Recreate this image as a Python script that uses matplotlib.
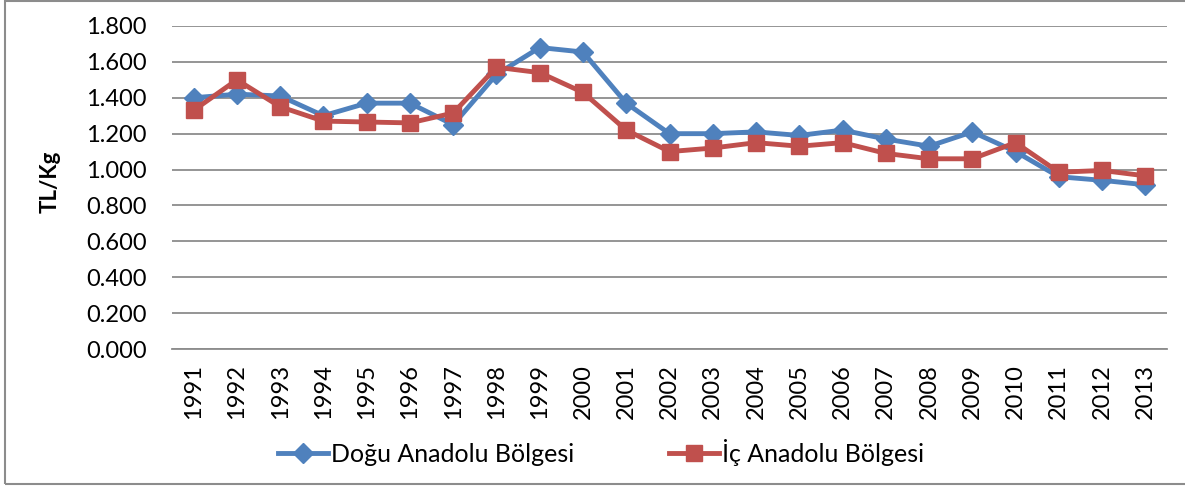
import matplotlib.pyplot as plt
from matplotlib.patches import Rectangle

# Yıllar ve bölge fiyatları (TL/Kg)
years = [str(y) for y in range(1991, 2014)]
dogu = [1.40, 1.42, 1.41, 1.30, 1.37, 1.37, 1.25, 1.53, 1.68, 1.655, 1.37, 1.20,
        1.20, 1.21, 1.19, 1.22, 1.17, 1.13, 1.21, 1.10, 0.96, 0.94, 0.915]
ic = [1.33, 1.50, 1.35, 1.27, 1.265, 1.26, 1.315, 1.57, 1.54, 1.43, 1.22, 1.10,
      1.12, 1.15, 1.13, 1.15, 1.09, 1.06, 1.06, 1.15, 0.985, 0.995, 0.965]
yticks = [0.0, 0.2, 0.4, 0.6, 0.8, 1.0, 1.2, 1.4, 1.6, 1.8]

plt.rcParams['font.family'] = ['Lato', 'DejaVu Sans']

W, H = 1185, 486
fig = plt.figure(figsize=(W / 100, H / 100), dpi=100)
ax = fig.add_axes([172 / W, 1 - 349 / H, (1167 - 172) / W, (349 - 26) / H])

x = range(len(years))
ax.plot(x, dogu, color='#4F81BD', lw=3.5, marker='D', ms=10, label='Doğu Anadolu Bölgesi', zorder=3)
ax.plot(x, ic, color='#C0504D', lw=3.5, marker='s', ms=11, label='İç Anadolu Bölgesi', zorder=4)

ax.set_xlim(-0.5, len(years) - 0.5)
ax.set_ylim(0, 1.8)
ax.set_yticks(yticks)
ax.set_yticklabels([f"{v:.3f}" for v in yticks], fontsize=17)
ax.set_xticks(list(x))
ax.set_xticklabels(years, rotation=90, fontsize=17)
ax.tick_params(axis='x', length=0, pad=11)
ax.tick_params(axis='y', length=0, pad=18)
ax.grid(axis='y', color='#8c8c8c', lw=1.3)
ax.set_axisbelow(True)
for s in ['top', 'right', 'left']:
    ax.spines[s].set_visible(False)
ax.spines['bottom'].set_color('#8c8c8c')
ax.spines['bottom'].set_linewidth(1.3)

fig.text(50 / W, 1 - 182 / H, 'TL/Kg', rotation=90, fontsize=16, fontweight='bold',
         ha='center', va='center')

fig.legend(loc='center', bbox_to_anchor=(601 / W, 1 - 452 / H), ncol=2, frameon=False,
           fontsize=18, handlelength=2.0, columnspacing=3.8, handletextpad=0.1)

fig.patches.append(Rectangle((5 / W, 1 - 484 / H), 1.0, (484 - 1.5) / H, transform=fig.transFigure,
                             fill=False, edgecolor='#8c8c8c', lw=1.5))

fig.savefig('out.png', dpi=100)
